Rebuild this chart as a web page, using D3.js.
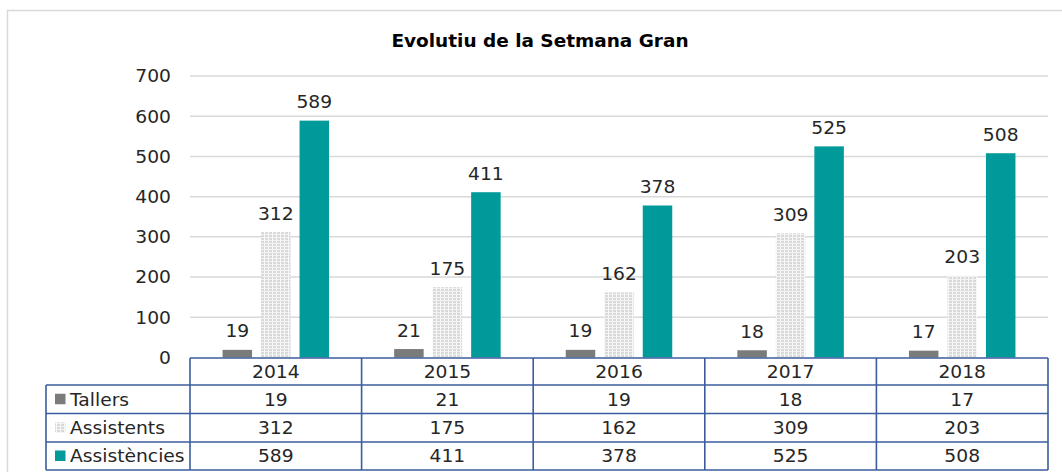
<!DOCTYPE html>
<html>
<head>
<meta charset="utf-8">
<script src="https://cdn.jsdelivr.net/npm/d3@7/dist/d3.min.js"></script>
<style>
  html, body { margin: 0; padding: 0; background: #fff; }
  svg { display: block; }
  text { font-family: "DejaVu Sans", Verdana, sans-serif; fill: #262626; }
</style>
</head>
<body>
<svg id="chart" width="1062" height="472"></svg>
<script>
// Chart data
const years = ["2014", "2015", "2016", "2017", "2018"];
const seriesNames = ["Tallers", "Assistents", "Assistències"];
const tallers = [19, 21, 19, 18, 17];
const assistents = [312, 175, 162, 309, 203];
const assistencies = [589, 411, 378, 525, 508];
const yTicks = [0, 100, 200, 300, 400, 500, 600, 700];
const title = "Evolutiu de la Setmana Gran";

const seriesValues = [tallers, assistents, assistencies];

const W = 1062, H = 472;
const svg = d3.select("#chart");

// Patterned fill for the "Assistents" series
const defs = svg.append("defs");
const pat = defs.append("pattern")
  .attr("id", "dots").attr("patternUnits", "userSpaceOnUse")
  .attr("width", 4).attr("height", 3);
pat.append("rect").attr("width", 4).attr("height", 3).attr("fill", "#d9d9d9");
pat.append("rect").attr("x", 0).attr("y", 0).attr("width", 1).attr("height", 3).attr("fill", "#fafafa");
pat.append("rect").attr("x", 0).attr("y", 0).attr("width", 4).attr("height", 1).attr("fill", "#f2f2f2");

const fills = ["#7b7b7b", "url(#dots)", "#009a9a"];

// Outer chart frame
svg.append("rect")
  .attr("x", 7.5).attr("y", 10.5).attr("width", W + 20).attr("height", H + 20)
  .attr("fill", "none").attr("stroke", "#d9d9d9").attr("stroke-width", 1.5);

// Stretched text helper (wide Verdana-like look)
const SX = 1.1;
function txt(g, x, y, s, anchor, size, weight) {
  return g.append("text")
    .attr("transform", `translate(${x},${y}) scale(${SX},1)`)
    .attr("text-anchor", anchor || "middle")
    .attr("font-size", size || 17)
    .attr("font-weight", weight || "normal")
    .text(s);
}

// Title
txt(svg, 540, 47, title, "middle", 16.8, "bold").style("fill", "#000");

// Scales
const plotL = 190, plotR = 1048;
const x = d3.scaleBand().domain(years).range([plotL, plotR]).paddingInner(0).paddingOuter(0);
const xs = d3.scaleBand().domain(seriesNames).range([-53.25, 53.25]).paddingInner(0.2338).paddingOuter(0);
const y = d3.scaleLinear().domain([0, 700]).range([357.5, 76]);

// Gridlines
const grid = svg.append("g");
grid.selectAll("line").data(yTicks.filter(t => t > 0)).join("line")
  .attr("x1", plotL).attr("x2", plotR)
  .attr("y1", d => y(d)).attr("y2", d => y(d))
  .attr("stroke", "#d9d9d9").attr("stroke-width", 1.5);

// Y axis labels
const yAxis = svg.append("g");
yTicks.forEach(t => {
  txt(yAxis, 171, y(t) + 6.3, String(t), "end", 17);
});

// Bars with value labels
const bars = svg.append("g");
seriesNames.forEach((s, si) => {
  const vals = seriesValues[si];
  years.forEach((yr, i) => {
    const cx = x(yr) + x.bandwidth() / 2;
    const bx = cx + xs(s);
    bars.append("rect")
      .attr("x", bx).attr("width", xs.bandwidth())
      .attr("y", y(vals[i])).attr("height", y(0) - y(vals[i]))
      .attr("fill", fills[si]);
    txt(bars, bx + xs.bandwidth() / 2, y(vals[i]) - 12.5, String(vals[i]), "middle", 17);
  });
});

// Data table below the plot
const tbl = svg.append("g");
const rowTop = [358, 385, 413.5, 442, 470];
const tableL = 46;
const border = "#3b5c9e";
const bw = 1.6;

// Horizontal rules
tbl.append("line").attr("x1", plotL).attr("x2", plotR).attr("y1", rowTop[0]).attr("y2", rowTop[0])
  .attr("stroke", border).attr("stroke-width", bw);
for (let r = 1; r < rowTop.length; r++) {
  tbl.append("line").attr("x1", tableL).attr("x2", plotR).attr("y1", rowTop[r]).attr("y2", rowTop[r])
    .attr("stroke", border).attr("stroke-width", bw);
}
// Vertical rules
tbl.append("line").attr("x1", tableL).attr("x2", tableL).attr("y1", rowTop[1]).attr("y2", rowTop[4])
  .attr("stroke", border).attr("stroke-width", bw);
const colEdges = years.map(yr => x(yr)).concat([plotR]);
colEdges.forEach(cx => {
  tbl.append("line").attr("x1", cx).attr("x2", cx).attr("y1", rowTop[0]).attr("y2", rowTop[4])
    .attr("stroke", border).attr("stroke-width", bw);
});

// Header row: years
years.forEach(yr => {
  txt(tbl, x(yr) + x.bandwidth() / 2, 378, yr, "middle", 17);
});

// Series rows with legend keys
seriesNames.forEach((s, si) => {
  const top = rowTop[si + 1], bot = rowTop[si + 2];
  const base = (top + bot) / 2 + 6.3;
  tbl.append("rect").attr("x", 55).attr("y", (top + bot) / 2 - 5.5)
    .attr("width", 10.5).attr("height", 10.5).attr("fill", fills[si]);
  txt(tbl, 70, base, s, "start", 17);
  seriesValues[si].forEach((v, i) => {
    txt(tbl, x(years[i]) + x.bandwidth() / 2, base, String(v), "middle", 17);
  });
});
</script>
</body>
</html>
